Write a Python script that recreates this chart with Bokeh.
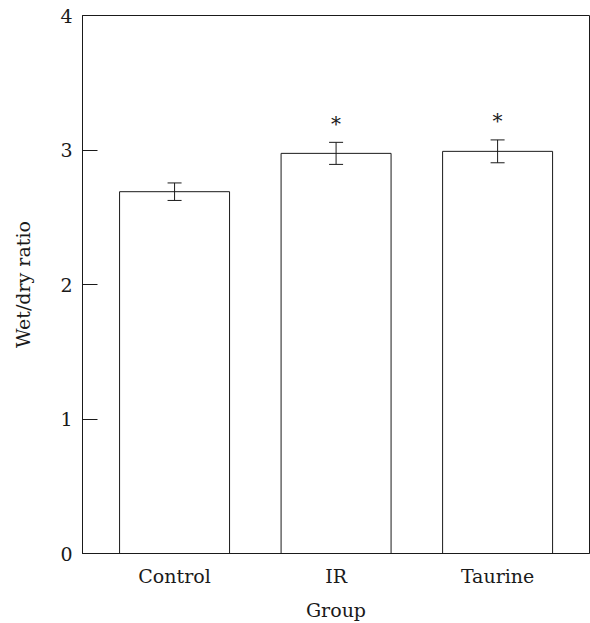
from bokeh.plotting import figure
from bokeh.models import Range1d, FixedTicker, ColumnDataSource, Whisker
from bokeh.core.properties import value
from bokeh.embed import file_html
from bokeh.resources import INLINE

groups = ["Control", "IR", "Taurine"]
ratio = [2.69, 2.975, 2.99]
sem = [0.065, 0.082, 0.085]
signif = ["", "*", "*"]
y_ticks = [0, 1, 2, 3, 4]

xpos = [i + 1 for i in range(len(groups))]
upper = [r + e for r, e in zip(ratio, sem)]
lower = [r - e for r, e in zip(ratio, sem)]
star_y = [u + 0.14 for u in upper]

src = ColumnDataSource(dict(x=xpos, top=ratio, upper=upper, lower=lower,
                            star_y=star_y, star=signif))

FONT = "DejaVu Serif"
INK = "#1a1a1a"

p = figure(width=590, height=623, output_backend="svg", toolbar_location=None,
           x_range=Range1d(0.430, 3.569), y_range=Range1d(0, 4),
           min_border_left=82, min_border_right=1, min_border_top=15,
           min_border_bottom=68)
p.xgrid.visible = False
p.ygrid.visible = False
p.outline_line_color = INK
p.outline_line_width = 1
p.background_fill_color = "white"
p.border_fill_color = "white"

p.vbar(x="x", top="top", bottom=0, width=0.681, source=src,
       fill_color="white", line_color=INK, line_width=1)

w = Whisker(base="x", upper="upper", lower="lower", source=src,
            line_color=INK, line_width=1, level="overlay")
w.upper_head.size = 14
w.lower_head.size = 14
w.upper_head.line_color = INK
w.lower_head.line_color = INK
p.add_layout(w)

p.text(x="x", y="star_y", text="star", source=src, text_align="center",
       text_baseline="middle", text_font=value(FONT), text_font_size="20px",
       text_color=INK)

p.xaxis.ticker = FixedTicker(ticks=xpos)
p.xaxis.major_label_overrides = {x: g for x, g in zip(xpos, groups)}
p.xaxis.minor_tick_line_color = None
p.xaxis.axis_label = "Group"
p.xaxis.major_label_standoff = 5
p.xaxis.axis_label_standoff = 9

p.yaxis.ticker = FixedTicker(ticks=y_ticks)
p.yaxis.major_tick_in = 15
p.yaxis.major_tick_out = 0
p.yaxis.minor_tick_line_color = None
p.yaxis.axis_label = "Wet/dry ratio"
p.yaxis.major_label_standoff = 10
p.yaxis.axis_label_standoff = 23

for ax in (p.xaxis[0], p.yaxis[0]):
    ax.axis_line_color = INK
    ax.major_tick_line_color = INK if ax is p.yaxis[0] else None
    ax.major_label_text_font = FONT
    ax.major_label_text_font_size = "19px"
    ax.major_label_text_color = INK
    ax.axis_label_text_font = FONT
    ax.axis_label_text_font_size = "19px"
    ax.axis_label_text_font_style = "normal"
    ax.axis_label_text_color = INK

open("out.html", "w").write(file_html(p, INLINE))
